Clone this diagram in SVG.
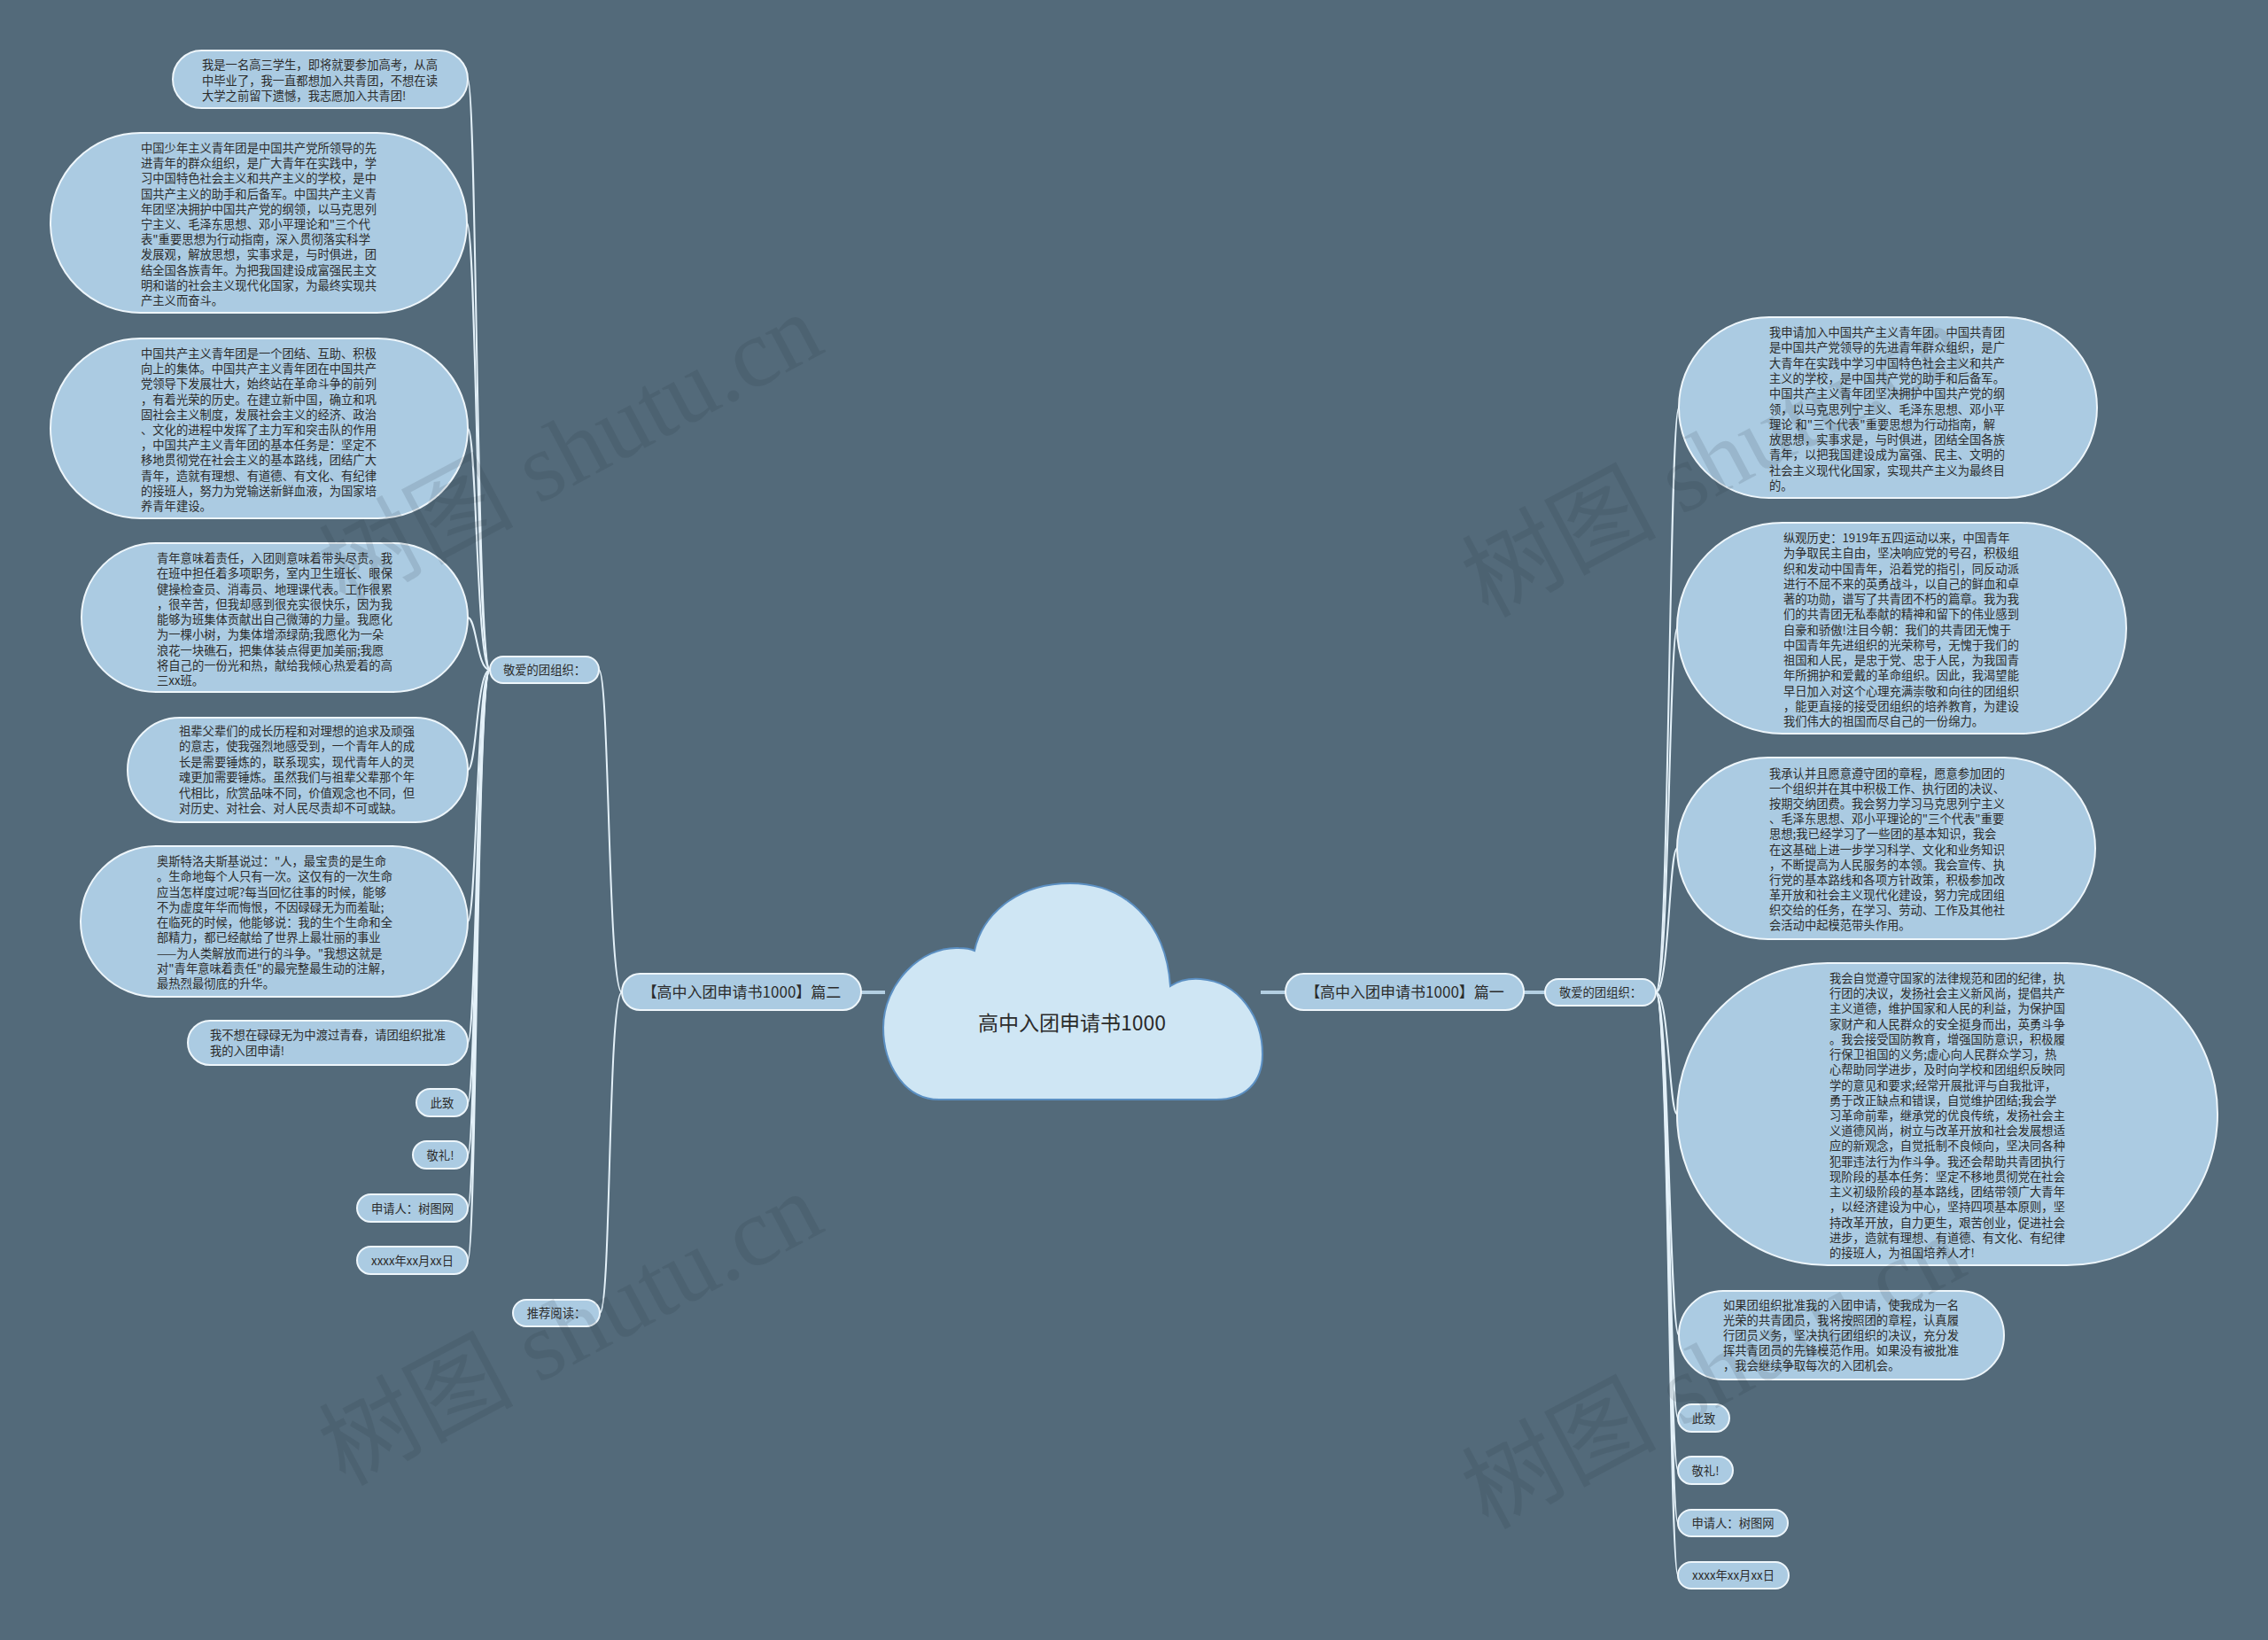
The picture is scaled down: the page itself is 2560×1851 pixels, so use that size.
<svg xmlns="http://www.w3.org/2000/svg" width="2560" height="1851" viewBox="0 0 2560 1851">
<style>
.bg{fill:#536a7a}
.n{fill:#abcbe2;stroke:#eef6fb;stroke-width:2}
.t{font-family:"Noto Sans CJK SC","Noto Sans",sans-serif;font-size:13.3px;fill:#2b2b2b}
.tm{font-family:"Noto Sans CJK SC","Noto Sans",sans-serif;font-size:13.3px;fill:#2b2b2b;text-anchor:middle}
.tb{font-family:"Noto Sans CJK SC","Noto Sans",sans-serif;font-size:17px;fill:#2b2b2b;text-anchor:middle}
.c{fill:none;stroke:#e4f1f9;stroke-width:2}
.cb{fill:none;stroke:#b3cfe2;stroke-width:4}
.wm{font-family:"Liberation Serif","Noto Sans CJK SC",serif;font-size:110px;fill:#1e2a33;opacity:0.12;text-anchor:middle}
</style>
<rect class="bg" x="0" y="0" width="2560" height="1851"/>

<g id="connectors">
<path class="cb" d="M972 1120 L999 1120"/>
<path class="cb" d="M1423 1120 L1451 1120"/>
<path class="cb" d="M1720 1120 L1744 1120"/>
<path class="c" d="M702 1120 C686 1120 688 756 676 756"/>
<path class="c" d="M702 1120 C686 1120 690 1482 677 1482"/>
<path class="c" d="M553 756 C538 756 538 89.5 528 89.5"/>
<path class="c" d="M553 756 C538 756 538 251.5 527 251.5"/>
<path class="c" d="M553 756 C538 756 538 483.5 528 483.5"/>
<path class="c" d="M553 756 C538 756 538 697 528 697"/>
<path class="c" d="M553 756 C538 756 538 869 528 869"/>
<path class="c" d="M553 756 C538 756 538 1040 528 1040"/>
<path class="c" d="M553 756 C538 756 538 1177 528 1177"/>
<path class="c" d="M553 756 C538 756 538 1244.5 528 1244.5"/>
<path class="c" d="M553 756 C538 756 538 1303.5 528 1303.5"/>
<path class="c" d="M553 756 C538 756 538 1363.5 528 1363.5"/>
<path class="c" d="M553 756 C538 756 538 1422.5 528 1422.5"/>
<path class="c" d="M1869 1120 C1884 1120 1884 460 1895 460"/>
<path class="c" d="M1869 1120 C1884 1120 1884 709 1893 709"/>
<path class="c" d="M1869 1120 C1884 1120 1884 957.5 1893 957.5"/>
<path class="c" d="M1869 1120 C1884 1120 1884 1257.5 1893 1257.5"/>
<path class="c" d="M1869 1120 C1884 1120 1884 1507 1895 1507"/>
<path class="c" d="M1869 1120 C1884 1120 1884 1600.5 1894 1600.5"/>
<path class="c" d="M1869 1120 C1884 1120 1884 1659.5 1894 1659.5"/>
<path class="c" d="M1869 1120 C1884 1120 1884 1719 1894 1719"/>
<path class="c" d="M1869 1120 C1884 1120 1884 1778 1894 1778"/>
</g>

<g id="center">
<path d="M1060 1241 C1020 1241 997 1200 997 1160 C997 1110 1040 1068 1082 1070 C1090 1070 1096 1071 1100 1073 C1108 1035 1145 997 1208 997 C1270 997 1316 1040 1321 1113 C1330 1107 1342 1104 1355 1105 C1400 1108 1425 1150 1425 1190 C1425 1222 1405 1241 1373 1241 Z" fill="#cfe6f4" stroke="#5b8fc2" stroke-width="2"/>
<text x="1210" y="1163" style="font-family:'Noto Sans CJK SC','Noto Sans',sans-serif;font-size:23px;fill:#2b2b2b;text-anchor:middle">高中入团申请书1000</text>
</g>

<g id="branch-2">
<rect class="n" x="702" y="1099" width="270" height="41" rx="20.5"/>
<text class="tb" x="837" y="1126">【高中入团申请书1000】篇二</text>
</g>
<g id="branch-1">
<rect class="n" x="1451" y="1099" width="269" height="41" rx="20.5"/>
<text class="tb" x="1585.5" y="1126">【高中入团申请书1000】篇一</text>
</g>

<g id="l-dear">
<rect class="n" x="553" y="741" width="123" height="30" rx="15"/>
<text class="tm" x="614.5" y="761">敬爱的团组织：</text>
</g>
<g id="l-rec">
<rect class="n" x="579" y="1467" width="98" height="30" rx="15"/>
<text class="tm" x="628" y="1487">推荐阅读：</text>
</g>

<g id="l1">
<rect class="n" x="195" y="57" width="333" height="65" rx="32.5"/>
<text class="t"><tspan x="228" y="78">我是一名高三学生，即将就要参加高考，从高</tspan><tspan x="228" dy="17.5">中毕业了，我一直都想加入共青团，不想在读</tspan><tspan x="228" dy="17.5">大学之前留下遗憾，我志愿加入共青团!</tspan></text>
</g>
<g id="l2">
<rect class="n" x="57" y="150" width="470" height="203" rx="101.5"/>
<text class="t"><tspan x="159" y="172">中国少年主义青年团是中国共产党所领导的先</tspan><tspan x="159" dy="17.2">进青年的群众组织，是广大青年在实践中，学</tspan><tspan x="159" dy="17.2">习中国特色社会主义和共产主义的学校，是中</tspan><tspan x="159" dy="17.2">国共产主义的助手和后备军。中国共产主义青</tspan><tspan x="159" dy="17.2">年团坚决拥护中国共产党的纲领，以马克思列</tspan><tspan x="159" dy="17.2">宁主义、毛泽东思想、邓小平理论和"三个代</tspan><tspan x="159" dy="17.2">表"重要思想为行动指南，深入贯彻落实科学</tspan><tspan x="159" dy="17.2">发展观，解放思想，实事求是，与时俱进，团</tspan><tspan x="159" dy="17.2">结全国各族青年。为把我国建设成富强民主文</tspan><tspan x="159" dy="17.2">明和谐的社会主义现代化国家，为最终实现共</tspan><tspan x="159" dy="17.2">产主义而奋斗。</tspan></text>
</g>
<g id="l3">
<rect class="n" x="57" y="382" width="471" height="203" rx="101.5"/>
<text class="t"><tspan x="159" y="404">中国共产主义青年团是一个团结、互助、积极</tspan><tspan x="159" dy="17.2">向上的集体。中国共产主义青年团在中国共产</tspan><tspan x="159" dy="17.2">党领导下发展壮大，始终站在革命斗争的前列</tspan><tspan x="159" dy="17.2">，有着光荣的历史。在建立新中国，确立和巩</tspan><tspan x="159" dy="17.2">固社会主义制度，发展社会主义的经济、政治</tspan><tspan x="159" dy="17.2">、文化的进程中发挥了主力军和突击队的作用</tspan><tspan x="159" dy="17.2">，中国共产主义青年团的基本任务是：坚定不</tspan><tspan x="159" dy="17.2">移地贯彻党在社会主义的基本路线，团结广大</tspan><tspan x="159" dy="17.2">青年，造就有理想、有道德、有文化、有纪律</tspan><tspan x="159" dy="17.2">的接班人，努力为党输送新鲜血液，为国家培</tspan><tspan x="159" dy="17.2">养青年建设。</tspan></text>
</g>
<g id="l4">
<rect class="n" x="92" y="613" width="436" height="168" rx="84"/>
<text class="t"><tspan x="177" y="635">青年意味着责任，入团则意味着带头尽责。我</tspan><tspan x="177" dy="17.25">在班中担任着多项职务，室内卫生班长、眼保</tspan><tspan x="177" dy="17.25">健操检查员、消毒员、地理课代表。工作很累</tspan><tspan x="177" dy="17.25">，很辛苦，但我却感到很充实很快乐，因为我</tspan><tspan x="177" dy="17.25">能够为班集体贡献出自己微薄的力量。我愿化</tspan><tspan x="177" dy="17.25">为一棵小树，为集体增添绿荫;我愿化为一朵</tspan><tspan x="177" dy="17.25">浪花一块礁石，把集体装点得更加美丽;我愿</tspan><tspan x="177" dy="17.25">将自己的一份光和热，献给我倾心热爱着的高</tspan><tspan x="177" dy="17.25">三xx班。</tspan></text>
</g>
<g id="l5">
<rect class="n" x="144" y="810" width="384" height="118" rx="59"/>
<text class="t"><tspan x="202" y="830">祖辈父辈们的成长历程和对理想的追求及顽强</tspan><tspan x="202" dy="17.4">的意志，使我强烈地感受到，一个青年人的成</tspan><tspan x="202" dy="17.4">长是需要锤炼的，联系现实，现代青年人的灵</tspan><tspan x="202" dy="17.4">魂更加需要锤炼。虽然我们与祖辈父辈那个年</tspan><tspan x="202" dy="17.4">代相比，欣赏品味不同，价值观念也不同，但</tspan><tspan x="202" dy="17.4">对历史、对社会、对人民尽责却不可或缺。</tspan></text>
</g>
<g id="l6">
<rect class="n" x="91" y="955" width="437" height="170" rx="85"/>
<text class="t"><tspan x="177" y="977">奥斯特洛夫斯基说过："人，最宝贵的是生命</tspan><tspan x="177" dy="17.25">。生命地每个人只有一次。这仅有的一次生命</tspan><tspan x="177" dy="17.25">应当怎样度过呢?每当回忆往事的时候，能够</tspan><tspan x="177" dy="17.25">不为虚度年华而悔恨，不因碌碌无为而羞耻;</tspan><tspan x="177" dy="17.25">在临死的时候，他能够说：我的生个生命和全</tspan><tspan x="177" dy="17.25">部精力，都已经献给了世界上最壮丽的事业</tspan><tspan x="177" dy="17.25">——为人类解放而进行的斗争。"我想这就是</tspan><tspan x="177" dy="17.25">对"青年意味着责任"的最完整最生动的注解，</tspan><tspan x="177" dy="17.25">最热烈最彻底的升华。</tspan></text>
</g>
<g id="l7">
<rect class="n" x="212" y="1152" width="316" height="50" rx="25"/>
<text class="t"><tspan x="237" y="1173">我不想在碌碌无为中渡过青春，请团组织批准</tspan><tspan x="237" dy="17.5">我的入团申请!</tspan></text>
</g>
<g id="l8">
<rect class="n" x="470" y="1229" width="58" height="31" rx="15.5"/>
<text class="tm" x="499" y="1249.5">此致</text>
</g>
<g id="l9">
<rect class="n" x="466" y="1288" width="62" height="31" rx="15.5"/>
<text class="tm" x="497" y="1308.5">敬礼!</text>
</g>
<g id="l10">
<rect class="n" x="403" y="1348" width="125" height="31" rx="15.5"/>
<text class="tm" x="465.5" y="1368.5">申请人：树图网</text>
</g>
<g id="l11">
<rect class="n" x="403" y="1407" width="125" height="31" rx="15.5"/>
<text class="tm" x="465.5" y="1427.5">xxxx年xx月xx日</text>
</g>

<g id="r-dear">
<rect class="n" x="1744" y="1105" width="125" height="30" rx="15"/>
<text class="tm" x="1806.5" y="1125">敬爱的团组织：</text>
</g>
<g id="r1">
<rect class="n" x="1895" y="358" width="472" height="204" rx="102"/>
<text class="t"><tspan x="1997" y="380">我申请加入中国共产主义青年团。中国共青团</tspan><tspan x="1997" dy="17.3">是中国共产党领导的先进青年群众组织，是广</tspan><tspan x="1997" dy="17.3">大青年在实践中学习中国特色社会主义和共产</tspan><tspan x="1997" dy="17.3">主义的学校，是中国共产党的助手和后备军。</tspan><tspan x="1997" dy="17.3">中国共产主义青年团坚决拥护中国共产党的纲</tspan><tspan x="1997" dy="17.3">领，以马克思列宁主义、毛泽东思想、邓小平</tspan><tspan x="1997" dy="17.3">理论 和"三个代表"重要思想为行动指南，解</tspan><tspan x="1997" dy="17.3">放思想，实事求是，与时俱进，团结全国各族</tspan><tspan x="1997" dy="17.3">青年，以把我国建设成为富强、民主、文明的</tspan><tspan x="1997" dy="17.3">社会主义现代化国家，实现共产主义为最终目</tspan><tspan x="1997" dy="17.3">的。</tspan></text>
</g>
<g id="r2">
<rect class="n" x="1893" y="590" width="507" height="238" rx="119"/>
<text class="t"><tspan x="2013" y="612">纵观历史：1919年五四运动以来，中国青年</tspan><tspan x="2013" dy="17.25">为争取民主自由，坚决响应党的号召，积极组</tspan><tspan x="2013" dy="17.25">织和发动中国青年，沿着党的指引，同反动派</tspan><tspan x="2013" dy="17.25">进行不屈不来的英勇战斗，以自己的鲜血和卓</tspan><tspan x="2013" dy="17.25">著的功勋，谱写了共青团不朽的篇章。我为我</tspan><tspan x="2013" dy="17.25">们的共青团无私奉献的精神和留下的伟业感到</tspan><tspan x="2013" dy="17.25">自豪和骄傲!注目今朝：我们的共青团无愧于</tspan><tspan x="2013" dy="17.25">中国青年先进组织的光荣称号，无愧于我们的</tspan><tspan x="2013" dy="17.25">祖国和人民，是忠于党、忠于人民，为我国青</tspan><tspan x="2013" dy="17.25">年所拥护和爱戴的革命组织。因此，我渴望能</tspan><tspan x="2013" dy="17.25">早日加入对这个心理充满崇敬和向往的团组织</tspan><tspan x="2013" dy="17.25">，能更直接的接受团组织的培养教育，为建设</tspan><tspan x="2013" dy="17.25">我们伟大的祖国而尽自己的一份绵力。</tspan></text>
</g>
<g id="r3">
<rect class="n" x="1893" y="855" width="472" height="205" rx="102.5"/>
<text class="t"><tspan x="1997" y="878">我承认并且愿意遵守团的章程，愿意参加团的</tspan><tspan x="1997" dy="17.1">一个组织并在其中积极工作、执行团的决议、</tspan><tspan x="1997" dy="17.1">按期交纳团费。我会努力学习马克思列宁主义</tspan><tspan x="1997" dy="17.1">、毛泽东思想、邓小平理论的"三个代表"重要</tspan><tspan x="1997" dy="17.1">思想;我已经学习了一些团的基本知识，我会</tspan><tspan x="1997" dy="17.1">在这基础上进一步学习科学、文化和业务知识</tspan><tspan x="1997" dy="17.1">，不断提高为人民服务的本领。我会宣传、执</tspan><tspan x="1997" dy="17.1">行党的基本路线和各项方针政策，积极参加改</tspan><tspan x="1997" dy="17.1">革开放和社会主义现代化建设，努力完成团组</tspan><tspan x="1997" dy="17.1">织交给的任务，在学习、劳动、工作及其他社</tspan><tspan x="1997" dy="17.1">会活动中起模范带头作用。</tspan></text>
</g>
<g id="r4">
<rect class="n" x="1893" y="1087" width="610" height="341" rx="170"/>
<text class="t"><tspan x="2065" y="1109">我会自觉遵守国家的法律规范和团的纪律，执</tspan><tspan x="2065" dy="17.22">行团的决议，发扬社会主义新风尚，提倡共产</tspan><tspan x="2065" dy="17.22">主义道德，维护国家和人民的利益，为保护国</tspan><tspan x="2065" dy="17.22">家财产和人民群众的安全挺身而出，英勇斗争</tspan><tspan x="2065" dy="17.22">。我会接受国防教育，增强国防意识，积极履</tspan><tspan x="2065" dy="17.22">行保卫祖国的义务;虚心向人民群众学习，热</tspan><tspan x="2065" dy="17.22">心帮助同学进步，及时向学校和团组织反映同</tspan><tspan x="2065" dy="17.22">学的意见和要求;经常开展批评与自我批评，</tspan><tspan x="2065" dy="17.22">勇于改正缺点和错误，自觉维护团结;我会学</tspan><tspan x="2065" dy="17.22">习革命前辈，继承党的优良传统，发扬社会主</tspan><tspan x="2065" dy="17.22">义道德风尚，树立与改革开放和社会发展想适</tspan><tspan x="2065" dy="17.22">应的新观念，自觉抵制不良倾向，坚决同各种</tspan><tspan x="2065" dy="17.22">犯罪违法行为作斗争。我还会帮助共青团执行</tspan><tspan x="2065" dy="17.22">现阶段的基本任务：坚定不移地贯彻党在社会</tspan><tspan x="2065" dy="17.22">主义初级阶段的基本路线，团结带领广大青年</tspan><tspan x="2065" dy="17.22">，以经济建设为中心，坚持四项基本原则，坚</tspan><tspan x="2065" dy="17.22">持改革开放，自力更生，艰苦创业，促进社会</tspan><tspan x="2065" dy="17.22">进步，造就有理想、有道德、有文化、有纪律</tspan><tspan x="2065" dy="17.22">的接班人，为祖国培养人才!</tspan></text>
</g>
<g id="r5">
<rect class="n" x="1895" y="1457" width="367" height="100" rx="50"/>
<text class="t"><tspan x="1945" y="1478">如果团组织批准我的入团申请，使我成为一名</tspan><tspan x="1945" dy="17">光荣的共青团员，我将按照团的章程，认真履</tspan><tspan x="1945" dy="17">行团员义务，坚决执行团组织的决议，充分发</tspan><tspan x="1945" dy="17">挥共青团员的先锋模范作用。如果没有被批准</tspan><tspan x="1945" dy="17">，我会继续争取每次的入团机会。</tspan></text>
</g>
<g id="r6">
<rect class="n" x="1894" y="1585" width="58" height="31" rx="15.5"/>
<text class="tm" x="1923" y="1605.5">此致</text>
</g>
<g id="r7">
<rect class="n" x="1894" y="1644" width="62" height="31" rx="15.5"/>
<text class="tm" x="1925" y="1664.5">敬礼!</text>
</g>
<g id="r8">
<rect class="n" x="1894" y="1704" width="124" height="30" rx="15"/>
<text class="tm" x="1956" y="1724">申请人：树图网</text>
</g>
<g id="r9">
<rect class="n" x="1894" y="1763" width="125" height="30" rx="15"/>
<text class="tm" x="1956.5" y="1783">xxxx年xx月xx日</text>
</g>

<g id="watermark">
<text class="wm" x="645" y="545" transform="rotate(-28 645 510)">树图 shutu.cn</text>
<text class="wm" x="1935" y="557" transform="rotate(-28 1935 522)">树图 shutu.cn</text>
<text class="wm" x="645" y="1537" transform="rotate(-28 645 1502)">树图 shutu.cn</text>
<text class="wm" x="1935" y="1586" transform="rotate(-28 1935 1551)">树图 shutu.cn</text>
</g>
</svg>
